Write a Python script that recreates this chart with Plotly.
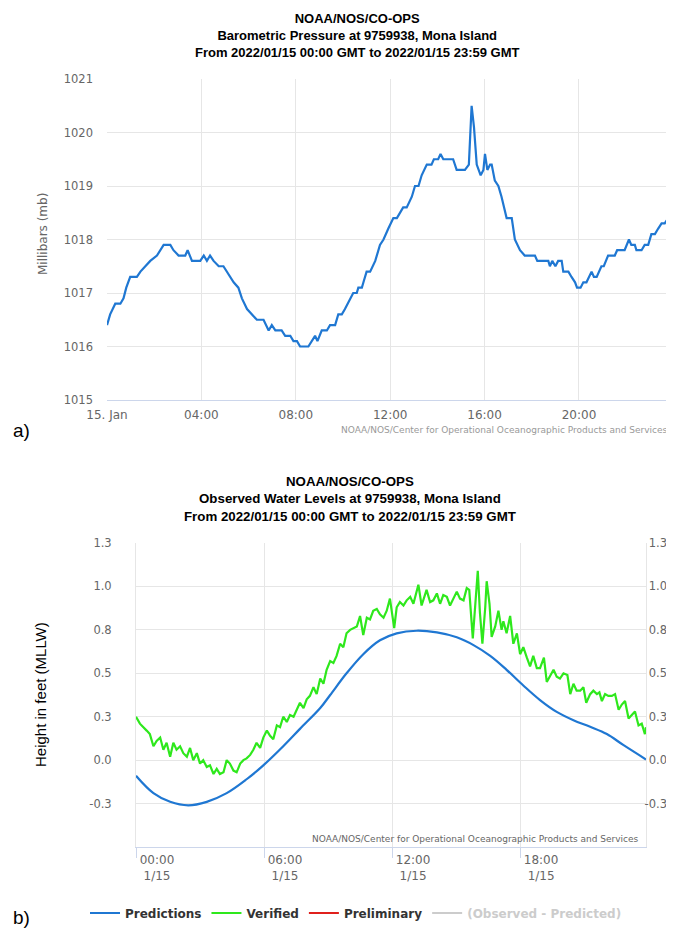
import pandas as pd
import plotly.graph_objects as go

DAY = "2022-01-15 "

# ---- (a) Barometric pressure ----
pressure_times = [
    "00:00", "00:08", "00:21", "00:34", "00:42", "00:49", "00:59", "01:16", "01:25", "01:37",
    "01:50", "02:07", "02:24", "02:41", "02:49", "03:02", "03:19", "03:25", "03:36", "03:57",
    "04:06", "04:14", "04:22", "04:31", "04:44", "04:56", "05:05", "05:13", "05:22", "05:34",
    "05:43", "05:56", "06:08", "06:21", "06:38", "06:51", "06:59", "07:08", "07:24", "07:33",
    "07:46", "07:54", "08:03", "08:11", "08:32", "08:41", "08:49", "08:55", "09:06", "09:19",
    "09:27", "09:40", "09:48", "09:57", "10:05", "10:26", "10:35", "10:39", "10:48", "10:52",
    "11:00", "11:09", "11:22", "11:34", "11:43", "11:55", "12:08", "12:17", "12:25", "12:33",
    "12:42", "12:55", "13:03", "13:12", "13:20", "13:33", "13:45", "13:51", "14:02", "14:08",
    "14:15", "14:40", "14:49", "15:10", "15:20", "15:27", "15:33", "15:40", "15:50", "15:57",
    "16:01", "16:07", "16:14", "16:18", "16:26", "16:35", "16:43", "16:56", "17:09", "17:17",
    "17:30", "17:42", "18:08", "18:14", "18:42", "18:46", "18:52", "19:00", "19:07", "19:16",
    "19:20", "19:33", "19:41", "19:50", "19:55", "20:04", "20:11", "20:19", "20:32", "20:38",
    "20:45", "20:57", "21:03", "21:14", "21:31", "21:37", "21:56", "22:07", "22:13", "22:22",
    "22:26", "22:39", "22:47", "22:56", "23:04", "23:13", "23:21", "23:30", "23:38", "23:47",
    "23:59",
]
pressure_mb = [
    1016.4, 1016.6, 1016.8, 1016.8, 1016.9, 1017.1, 1017.3, 1017.3, 1017.4, 1017.5,
    1017.6, 1017.7, 1017.9, 1017.9, 1017.8, 1017.7, 1017.7, 1017.8, 1017.6, 1017.6,
    1017.7, 1017.6, 1017.7, 1017.6, 1017.5, 1017.5, 1017.4, 1017.3, 1017.2, 1017.1,
    1016.9, 1016.7, 1016.6, 1016.5, 1016.5, 1016.3, 1016.4, 1016.3, 1016.3, 1016.2,
    1016.2, 1016.1, 1016.1, 1016.0, 1016.0, 1016.1, 1016.2, 1016.1, 1016.3, 1016.3,
    1016.4, 1016.4, 1016.6, 1016.6, 1016.7, 1017.0, 1017.0, 1017.1, 1017.1, 1017.2,
    1017.4, 1017.4, 1017.6, 1017.9, 1018.0, 1018.2, 1018.4, 1018.4, 1018.5, 1018.6,
    1018.6, 1018.8, 1019.0, 1019.0, 1019.2, 1019.4, 1019.4, 1019.5, 1019.5, 1019.6,
    1019.5, 1019.5, 1019.3, 1019.3, 1019.4, 1020.5, 1020.1, 1019.4, 1019.2, 1019.3,
    1019.6, 1019.3, 1019.4, 1019.4, 1019.1, 1019.0, 1018.8, 1018.4, 1018.4, 1018.0,
    1017.8, 1017.7, 1017.7, 1017.6, 1017.6, 1017.5, 1017.6, 1017.5, 1017.6, 1017.6,
    1017.4, 1017.4, 1017.3, 1017.2, 1017.1, 1017.1, 1017.2, 1017.2, 1017.4, 1017.3,
    1017.3, 1017.5, 1017.5, 1017.7, 1017.7, 1017.8, 1017.8, 1018.0, 1017.9, 1017.9,
    1017.8, 1017.8, 1017.9, 1017.9, 1018.1, 1018.1, 1018.2, 1018.3, 1018.3, 1018.4,
    1018.6,
]
pressure_tick_times = ["00:00", "04:00", "08:00", "12:00", "16:00", "20:00"]
pressure_tick_labels = ["15. Jan", "04:00", "08:00", "12:00", "16:00", "20:00"]
pressure_y_ticks = [1015, 1016, 1017, 1018, 1019, 1020, 1021]

# ---- (b) Water levels ----
pred_times = [
    "00:00", "00:49", "01:36", "02:27", "03:19", "04:15", "05:11", "05:58", "06:54", "07:41",
    "08:38", "09:06", "09:52", "10:39", "11:26", "12:13", "13:09", "14:06", "15:02", "15:49",
    "16:36", "17:22", "18:09", "18:56", "19:43", "20:30", "21:17", "22:04", "22:51", "23:54",
]
pred_ft = [
    -0.09, -0.19, -0.24, -0.26, -0.24, -0.19, -0.11, -0.03, 0.08, 0.18,
    0.30, 0.375, 0.50, 0.61, 0.69, 0.73, 0.745, 0.735, 0.707, 0.662,
    0.60, 0.52, 0.43, 0.346, 0.278, 0.23, 0.192, 0.15, 0.086, 0.004,
]
verified_times = [
    "00:00", "00:11", "00:30", "00:39", "00:49", "00:58", "01:08", "01:17", "01:26", "01:36",
    "01:45", "01:54", "02:04", "02:13", "02:23", "02:32", "02:41", "02:51", "03:00", "03:09",
    "03:19", "03:28", "03:38", "03:47", "03:56", "04:06", "04:15", "04:24", "04:34", "04:43",
    "04:53", "05:02", "05:11", "05:21", "05:30", "05:39", "05:49", "05:58", "06:08", "06:17",
    "06:26", "06:36", "06:45", "06:54", "07:04", "07:13", "07:23", "07:32", "07:41", "07:51",
    "08:00", "08:09", "08:19", "08:28", "08:38", "08:47", "08:56", "09:06", "09:15", "09:24",
    "09:34", "09:43", "09:52", "10:02", "10:11", "10:21", "10:30", "10:39", "10:49", "10:58",
    "11:07", "11:17", "11:26", "11:36", "11:45", "11:54", "12:06", "12:13", "12:22", "12:32",
    "12:41", "12:51", "13:00", "13:14", "13:23", "13:37", "13:47", "13:56", "14:06", "14:15",
    "14:24", "14:34", "14:43", "14:52", "15:02", "15:11", "15:21", "15:30", "15:37", "15:47",
    "15:53", "16:01", "16:07", "16:14", "16:22", "16:26", "16:34", "16:40", "16:50", "16:59",
    "17:08", "17:13", "17:22", "17:32", "17:41", "17:51", "18:00", "18:09", "18:19", "18:28",
    "18:37", "18:47", "18:56", "19:07", "19:15", "19:24", "19:34", "19:43", "19:52", "20:02",
    "20:13", "20:21", "20:30", "20:39", "20:49", "20:58", "21:06", "21:17", "21:26", "21:36",
    "21:43", "21:50", "21:59", "22:08", "22:18", "22:27", "22:37", "22:46", "22:55", "23:05",
    "23:14", "23:23", "23:33", "23:42", "23:51", "23:54",
]
verified_ft = [
    0.25, 0.21, 0.17, 0.15, 0.08, 0.11, 0.13, 0.06, 0.10, 0.02,
    0.10, 0.06, 0.08, 0.04, 0.02, 0.07, 0.00, 0.04, -0.02, 0.00,
    -0.04, -0.03, -0.08, -0.05, -0.08, -0.07, 0.00, -0.02, -0.06, -0.07,
    -0.02, 0.00, 0.01, 0.03, 0.06, 0.10, 0.07, 0.13, 0.17, 0.14,
    0.12, 0.20, 0.19, 0.25, 0.22, 0.26, 0.25, 0.29, 0.33, 0.30,
    0.35, 0.37, 0.42, 0.38, 0.47, 0.44, 0.52, 0.57, 0.56, 0.60,
    0.67, 0.65, 0.73, 0.75, 0.76, 0.77, 0.83, 0.72, 0.82, 0.81,
    0.86, 0.87, 0.84, 0.82, 0.86, 0.93, 0.76, 0.88, 0.91, 0.89,
    0.92, 0.94, 0.90, 1.01, 0.89, 0.98, 0.91, 0.92, 0.96, 0.90,
    0.95, 0.94, 0.89, 0.93, 0.97, 0.93, 0.92, 0.99, 0.98, 0.70,
    0.89, 1.09, 0.85, 0.67, 0.88, 1.03, 0.90, 0.71, 0.77, 0.86,
    0.75, 0.80, 0.73, 0.83, 0.67, 0.73, 0.61, 0.65, 0.59, 0.54,
    0.60, 0.53, 0.53, 0.59, 0.45, 0.48, 0.52, 0.48, 0.47, 0.50,
    0.49, 0.38, 0.44, 0.40, 0.40, 0.42, 0.33, 0.38, 0.40, 0.38,
    0.39, 0.34, 0.38, 0.37, 0.37, 0.38, 0.29, 0.32, 0.34, 0.24,
    0.26, 0.28, 0.20, 0.21, 0.15, 0.19,
]
water_tick_times = ["00:00", "06:00", "12:00", "18:00"]
water_tick_labels = ["00:00<br>1/15", "06:00<br>1/15", "12:00<br>1/15", "18:00<br>1/15"]
water_y_ticks = [-0.25, 0.0, 0.25, 0.5, 0.75, 1.0, 1.25]
water_y_labels = ["-0.3", "0.0", "0.3", "0.5", "0.8", "1.0", "1.3"]
water_y_range = [-0.5, 1.25]


def ts(lst):
    return pd.to_datetime([DAY + t for t in lst])


# The page body has an 8px margin, so the figure is sized to fill the rest of
# the 674x929 window and positions below are given in window pixels.
OFF = 8
VW, VH = 674, 929
W, H = VW - OFF, VH - OFF


def px_x(p):
    return (p - OFF) / W


def px_y(p):
    return (VH - p) / H


BLUE = "#1f77d2"
GREEN = "#2ee81c"
GRID = "#e6e6e6"
AXIS = "#ccd6eb"
TICKFONT = dict(family="DejaVu Sans", size=11.5, color="#666666")

# bottom plot box in window pixels
B_LEFT, B_RIGHT = 136, 646
B_TOP, B_BOT = 543, 847
PAD = 12  # extra room for the right-hand labels at the top / bottom ends
units_per_px = (water_y_range[1] - water_y_range[0]) / (B_BOT - B_TOP)
right_range = [water_y_range[0] - PAD * units_per_px, water_y_range[1] + PAD * units_per_px]

fig = go.Figure()
fig.add_trace(go.Scatter(x=ts(pressure_times), y=pressure_mb, mode="lines",
                         line=dict(color=BLUE, width=2.2), showlegend=False,
                         xaxis="x", yaxis="y"))
fig.add_trace(go.Scatter(x=ts(pred_times), y=pred_ft, mode="lines", name="Predictions",
                         line=dict(color=BLUE, width=2.2, shape="spline", smoothing=1.0),
                         xaxis="x2", yaxis="y2"))
fig.add_trace(go.Scatter(x=ts(verified_times), y=verified_ft, mode="lines", name="Verified",
                         line=dict(color=GREEN, width=2.2), xaxis="x2", yaxis="y2"))
fig.add_trace(go.Scatter(x=[None], y=[None], mode="lines", name="Preliminary",
                         line=dict(color="#e0201c", width=2.2), xaxis="x2", yaxis="y2"))
fig.add_trace(go.Scatter(x=[None], y=[None], mode="lines",
                         name="<span style='color:#cccccc'>(Observed - Predicted)</span>",
                         line=dict(color="#cccccc", width=2.2), xaxis="x2", yaxis="y2"))
# empty trace so the right-hand axis is drawn
fig.add_trace(go.Scatter(x=[None], y=[None], mode="lines", showlegend=False,
                         xaxis="x3", yaxis="y3"))

fig.update_layout(
    width=W, height=H,
    margin=dict(l=0, r=0, t=0, b=0, autoexpand=False),
    paper_bgcolor="white", plot_bgcolor="rgba(0,0,0,0)",
    font=dict(family="DejaVu Sans", color="#333333"),
    xaxis=dict(
        domain=[px_x(107), px_x(673)], anchor="y", type="date", automargin=False,
        range=[DAY + "00:00", DAY + "23:59"],
        tickmode="array", tickvals=ts(pressure_tick_times), ticktext=pressure_tick_labels,
        showgrid=True, gridcolor=GRID, gridwidth=1,
        showline=True, linecolor=AXIS, linewidth=1,
        ticks="", tickfont=dict(family="DejaVu Sans", size=12, color="#666666"),
        ticklabelstandoff=4, zeroline=False,
    ),
    yaxis=dict(
        domain=[px_y(400), px_y(79)], anchor="x", automargin=False,
        range=[1015, 1021], tickmode="array", tickvals=pressure_y_ticks,
        ticktext=[str(v) for v in pressure_y_ticks],
        showgrid=True, gridcolor=GRID, gridwidth=1, zeroline=False,
        showline=False, ticks="", tickfont=TICKFONT, ticklabelstandoff=13,
    ),
    xaxis2=dict(
        domain=[px_x(B_LEFT), px_x(B_RIGHT)], anchor="y2", type="date", automargin=False,
        range=[DAY + "00:00", DAY + "23:54"],
        tickmode="array", tickvals=ts(water_tick_times), ticktext=water_tick_labels,
        showgrid=True, gridcolor=GRID, gridwidth=1,
        showline=True, linecolor=AXIS, linewidth=1,
        ticks="outside", ticklen=10, tickcolor=AXIS, tickwidth=1,
        tickfont=dict(family="DejaVu Sans", size=12, color="#666666"),
        ticklabelshift=21, ticklabelstandoff=-8, zeroline=False,
    ),
    yaxis2=dict(
        domain=[px_y(B_BOT), px_y(B_TOP)], anchor="x2", automargin=False,
        range=water_y_range, tickmode="array", tickvals=water_y_ticks, ticktext=water_y_labels,
        showgrid=True, gridcolor=GRID, gridwidth=1, zeroline=False,
        showline=True, mirror=True, linecolor=GRID, linewidth=1,
        ticks="", tickfont=TICKFONT, ticklabelstandoff=21,
    ),
    xaxis3=dict(
        domain=[px_x(B_LEFT), px_x(B_RIGHT)], anchor="y3", visible=False,
        showgrid=False, zeroline=False, automargin=False,
        type="date", range=[DAY + "00:00", DAY + "23:54"],
    ),
    yaxis3=dict(
        domain=[px_y(B_BOT + PAD), px_y(B_TOP - PAD)],
        side="right", anchor="free", position=1.0, automargin=False,
        range=right_range, tickmode="array", tickvals=water_y_ticks, ticktext=water_y_labels,
        showgrid=False, zeroline=False, showline=False,
        ticks="", tickfont=TICKFONT, ticklabelposition="inside", ticklabelstandoff=4,
    ),
    legend=dict(
        orientation="h", x=px_x(85), xanchor="left", y=px_y(913), yanchor="middle",
        font=dict(family="DejaVu Sans", size=12, color="#333333", weight="bold"),
        bgcolor="rgba(0,0,0,0)", itemclick=False, itemdoubleclick=False,
        tracegroupgap=0,
    ),
)

ann = []
ann.append(dict(text="<b>NOAA/NOS/CO-OPS<br>Barometric Pressure at 9759938, Mona Island<br>"
                     "From 2022/01/15 00:00 GMT to 2022/01/15 23:59 GMT</b>",
                x=px_x(357), y=px_y(35), xref="paper", yref="paper",
                xanchor="center", yanchor="middle", showarrow=False,
                font=dict(family="Liberation Sans", size=13, color="#000000")))
ann.append(dict(text="<b>NOAA/NOS/CO-OPS<br>Observed Water Levels at 9759938, Mona Island<br>"
                     "From 2022/01/15 00:00 GMT to 2022/01/15 23:59 GMT</b>",
                x=px_x(350), y=px_y(499), xref="paper", yref="paper",
                xanchor="center", yanchor="middle", showarrow=False,
                font=dict(family="Liberation Sans", size=13.3, color="#000000")))
ann.append(dict(text="Millibars (mb)", textangle=-90, x=px_x(43), y=px_y(234),
                xref="paper", yref="paper", xanchor="center", yanchor="middle",
                showarrow=False, font=dict(family="DejaVu Sans", size=12, color="#666666")))
ann.append(dict(text="Height in feet (MLLW)", textangle=-90, x=px_x(40), y=px_y(695),
                xref="paper", yref="paper", xanchor="center", yanchor="middle",
                showarrow=False, font=dict(family="Liberation Sans", size=15, color="#000000")))
ann.append(dict(text="NOAA/NOS/Center for Operational Oceanographic Products and Services",
                x=px_x(670), y=px_y(430), xref="paper", yref="paper",
                xanchor="right", yanchor="middle", showarrow=False,
                font=dict(family="DejaVu Sans", size=9, color="#999999")))
ann.append(dict(text="NOAA/NOS/Center for Operational Oceanographic Products and Services",
                x=px_x(641), y=px_y(839), xref="paper", yref="paper",
                xanchor="right", yanchor="middle", showarrow=False,
                font=dict(family="DejaVu Sans", size=9, color="#666666")))
ann.append(dict(text="a)", x=px_x(11), y=px_y(430), xref="paper", yref="paper",
                xanchor="left", yanchor="middle", showarrow=False,
                font=dict(family="Liberation Sans", size=19, color="#000000")))
ann.append(dict(text="b)", x=px_x(11), y=px_y(917), xref="paper", yref="paper",
                xanchor="left", yanchor="middle", showarrow=False,
                font=dict(family="Liberation Sans", size=19, color="#000000")))
fig.update_layout(annotations=ann)

fig.write_html("out.html")
